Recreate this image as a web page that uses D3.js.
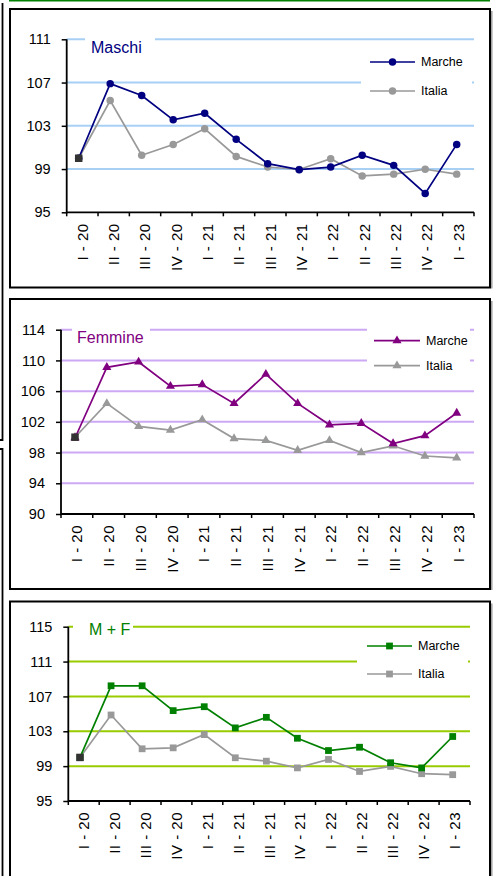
<!DOCTYPE html>
<html><head><meta charset="utf-8">
<script src="https://cdn.jsdelivr.net/npm/d3@7/dist/d3.min.js"></script>
<style>
body{margin:0;background:#fff}
svg{display:block}
text{font-family:"Liberation Sans",Arial,sans-serif}
</style>
</head><body>
<svg id="c" width="496" height="876"></svg>
<script>
const categories = ["I - 20","II - 20","III - 20","IV - 20","I - 21","II - 21","III - 21","IV - 21","I - 22","II - 22","III - 22","IV - 22","I - 23"];
const seriesNames = ["Marche","Italia"];
const baseValue = 100;

const maschiMarche = [100,106.9,105.8,103.55,104.16,101.75,99.5,98.94,99.18,100.28,99.34,96.74,101.28];
const maschiItalia = [100,105.33,100.28,101.27,102.72,100.17,99.19,98.96,99.96,98.36,98.53,98.98,98.53];
const maschiTicks = [95,99,103,107,111];

const femmineMarche = [99.9,109.1,109.8,106.65,106.85,104.4,108.2,104.4,101.62,101.8,99.18,100.2,103.15];
const femmineItalia = [100,104.4,101.4,100.93,102.28,99.82,99.58,98.3,99.58,98.0,98.88,97.55,97.32];
const femmineTicks = [90,94,98,102,106,110,114];

const totaleMarche = [100,108.22,108.22,105.37,105.82,103.39,104.6,102.2,100.79,101.17,99.39,98.8,102.4];
const totaleItalia = [100,104.87,100.99,101.1,102.62,99.96,99.57,98.8,99.77,98.39,98.97,98.13,98.02];
const totaleTicks = [95,99,103,107,111,115];

const svg = d3.select("#c");

// background frame remnants
svg.append("line").attr("x1",9).attr("x2",490).attr("y1",0.8).attr("y2",0.8)
  .attr("stroke","#008000").attr("stroke-width",1.6);
svg.append("path").attr("d","M2.5,3 V440 H0").attr("fill","none").attr("stroke","#000").attr("stroke-width",1.8);
svg.append("path").attr("d","M0,449 H2.5 V876").attr("fill","none").attr("stroke","#000").attr("stroke-width",1.8);

function drawPanel(o){
  const g = svg.append("g");
  // frame
  g.append("rect").attr("x",o.frame[0]).attr("y",o.frame[1]).attr("width",o.frame[2]).attr("height",o.frame[3])
    .attr("fill","#fff").attr("stroke","#000").attr("stroke-width",2);
  g.append("line").attr("x1",o.frame[0]+o.frame[2]+1.8).attr("x2",o.frame[0]+o.frame[2]+1.8)
    .attr("y1",o.frame[1]+2).attr("y2",o.frame[1]+o.frame[3]+1).attr("stroke","#a0a0a0").attr("stroke-width",1.5);

  const y = d3.scaleLinear().domain(o.domain).range([o.yBot,o.yTop]);
  const xb = d3.scaleBand().domain(categories).range([o.x0,o.x1]);
  const xp = d3.scalePoint().domain(categories).range(o.pts);

  // gridlines
  g.append("g").selectAll("line").data(o.ticks.slice(1)).join("line")
    .attr("x1",o.x0).attr("x2",o.x1).attr("y1",d=>y(d)).attr("y2",d=>y(d))
    .attr("stroke",o.grid).attr("stroke-width",2);

  // title & legend white boxes
  g.append("rect").attr("x",o.titleBox[0]).attr("y",o.titleBox[1]).attr("width",o.titleBox[2]).attr("height",o.titleBox[3]).attr("fill","#fff");
  g.append("rect").attr("x",o.legBox[0]).attr("y",o.legBox[1]).attr("width",o.legBox[2]).attr("height",o.legBox[3]).attr("fill","#fff");

  g.append("text").attr("x",o.titleX).attr("y",o.titleY).attr("fill",o.color)
    .attr("font-size",16).text(o.title);

  // y axis
  const ya = g.append("g").attr("transform",`translate(${o.x0},0)`)
    .call(d3.axisLeft(y).tickValues(o.ticks).tickSize(5).tickPadding(11).tickFormat(d3.format("d")));
  ya.select(".domain").remove();
  ya.selectAll(".tick line").attr("stroke","#000").attr("stroke-width",1.5);
  ya.selectAll("text").attr("font-size",14.5).attr("fill","#000").attr("font-family","'Liberation Sans',Arial,sans-serif");
  g.append("line").attr("x1",o.x0).attr("x2",o.x0).attr("y1",o.yTop).attr("y2",o.yBot+1).attr("stroke","#000").attr("stroke-width",1.8);

  // x axis
  g.append("line").attr("x1",o.x0).attr("x2",o.x1).attr("y1",o.yBot).attr("y2",o.yBot).attr("stroke","#000").attr("stroke-width",1.8);
  const bounds = categories.map(c=>xb(c)).concat([o.x1]);
  g.append("g").selectAll("line").data(bounds).join("line")
    .attr("x1",d=>d).attr("x2",d=>d).attr("y1",o.yBot).attr("y2",o.yBot+4)
    .attr("stroke","#000").attr("stroke-width",1.5);
  g.append("g").selectAll("text").data(categories).join("text")
    .attr("transform",d=>`translate(${xb(d)+xb.bandwidth()/2},${o.yBot+11}) rotate(-90)`)
    .attr("text-anchor","end").attr("dy","0.36em").attr("font-size",15).attr("letter-spacing",0.5)
    .attr("fill","#000").text(d=>d);

  const line = d3.line().x((d,i)=>xp(categories[i])).y(d=>y(d));
  const sym = d3.symbol().type(o.shape).size(o.symSize);
  const series = [{name:seriesNames[0],vals:o.marche,col:o.color},{name:seriesNames[1],vals:o.italia,col:"#999999"}];
  // draw Italia first then Marche
  [series[1],series[0]].forEach(s=>{
    g.append("path").datum(s.vals).attr("d",line).attr("fill","none").attr("stroke",s.col).attr("stroke-width",1.7);
    g.append("g").selectAll("path").data(s.vals.slice(1)).join("path")
      .attr("transform",(d,i)=>`translate(${xp(categories[i+1])},${y(d)})`)
      .attr("d",sym).attr("fill",s.col);
    g.append("path").attr("transform",`translate(${xp(categories[0])},${y(s.vals[0])})`).attr("d",sym).attr("fill",s.col);
  });
  // base marker
  g.append("path").attr("transform",`translate(${xp(categories[0])},${y(baseValue)})`)
    .attr("d",d3.symbol().type(d3.symbolSquare).size(56)).attr("fill","#333333");

  // legend
  series.forEach((s,i)=>{
    const ly = o.legY[i];
    g.append("line").attr("x1",o.legLine[0]).attr("x2",o.legLine[1]).attr("y1",ly).attr("y2",ly)
      .attr("stroke",s.col).attr("stroke-width",1.7);
    g.append("path").attr("transform",`translate(${(o.legLine[0]+o.legLine[1])/2},${ly})`).attr("d",sym).attr("fill",s.col);
    g.append("text").attr("x",o.legText).attr("y",ly).attr("dy","0.35em").attr("font-size",12.5).attr("fill","#000").text(s.name);
  });
}

drawPanel({
  frame:[10,9,480,278.5], x0:66.7, x1:474, yTop:39.3, yBot:212.3, domain:[95,111], ticks:maschiTicks,
  pts:[78.7,456.7], grid:"#a8d0f5", color:"#000080", title:"Maschi", titleX:91, titleY:52.5,
  titleBox:[85,30,70,26], legBox:[361,46,111,58], legY:[62,91], legLine:[370,415], legText:421,
  marche:maschiMarche, italia:maschiItalia, shape:d3.symbolCircle, symSize:44
});
drawPanel({
  frame:[10,299,480,290], x0:61, x1:474, yTop:329.7, yBot:514, domain:[90,114], ticks:femmineTicks,
  pts:[75,456.7], grid:"#cca8f5", color:"#800080", title:"Femmine", titleX:77, titleY:342.5,
  titleBox:[72,320,78,26], legBox:[367,322,103,58], legY:[340.7,365.7], legLine:[374,420], legText:426,
  marche:femmineMarche, italia:femmineItalia, shape:d3.symbolTriangle, symSize:36
});
drawPanel({
  frame:[10,601.5,480,290], x0:68.3, x1:470, yTop:626.7, yBot:801, domain:[95,115], ticks:totaleTicks,
  pts:[80,452.7], grid:"#99cc00", color:"#008000", title:"M + F", titleX:89, titleY:635,
  titleBox:[73,618,60,24], legBox:[357,632,111,58], legY:[646,674], legLine:[367,412], legText:418,
  marche:totaleMarche, italia:totaleItalia, shape:d3.symbolSquare, symSize:46
});
</script>
</body></html>
